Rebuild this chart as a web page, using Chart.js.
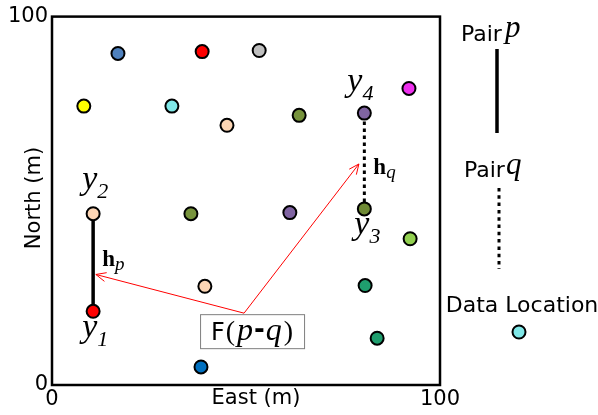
<!DOCTYPE html>
<html lang="en">
<head>
<meta charset="utf-8" />
<title>Pair p / Pair q</title>
<script src="https://cdn.jsdelivr.net/npm/chart.js@4.4.1/dist/chart.umd.min.js"></script>
<style>
  html, body { margin: 0; padding: 0; background: #fff; }
</style>
</head>
<body>
<canvas id="myChart" width="598" height="415"></canvas>
<script>
// debut donnees
const eastVals = [17.0, 38.7, 53.4, 8.2, 30.9, 45.1, 63.7, 80.5, 92.0, 10.6, 35.8, 61.3, 80.5, 92.3, 39.4, 80.7, 10.6, 83.8, 38.4];
const northVals = [90.0, 90.5, 90.8, 75.7, 75.7, 70.5, 73.2, 73.8, 80.5, 46.5, 46.5, 46.8, 47.8, 39.7, 26.8, 27.0, 20.0, 12.7, 4.9];
const pointColors = ["#4f81bd", "#ff0000", "#bfbfbf", "#ffff00", "#80e8e8", "#fcd5b4", "#77933c", "#8064a2", "#ee30ee",
  "#fcd5b4", "#77933c", "#8064a2", "#6f8a35", "#92d050", "#fcd5b4", "#1f9e6e", "#ff0000", "#1f9e6e", "#0070c0"];

// paires : indices des points (y1,y2) pour p et (y3,y4) pour q
const pairP = [16, 9];
const pairQ = [12, 7];
const pointNames = ["1", "2", "3", "4"];
const namedPoints = [16, 9, 12, 7];

// fleches F(p-q) : pointe hp, origine, pointe hq
const arrowEast = [11.3, 49.5, 79.1];
const arrowNorth = [30.0, 19.5, 60.0];

const axisTicks = [0, 100];
// fin donnees

const points = eastVals.map((x, i) => ({ x: x, y: northVals[i] }));
const pairData = (idx) => idx.map((i) => points[i]);
const arrowData = arrowEast.map((x, i) => ({ x: x, y: arrowNorth[i] }));

const SANS = "'DejaVu Sans'";
const SERIF = "'Liberation Serif'";

// petit texte y_n (italique + indice)
function yLabel(ctx, x, y, n) {
  ctx.font = "italic 34px " + SERIF;
  ctx.fillText("y", x, y);
  const w = ctx.measureText("y").width;
  ctx.font = "italic 22px " + SERIF;
  ctx.fillText(n, x + w, y + 9);
}

// h gras + indice italique
function hLabel(ctx, x, y, s) {
  ctx.font = "bold 23px " + SERIF;
  ctx.fillText("h", x, y);
  const w = ctx.measureText("h").width;
  ctx.font = "italic 19px " + SERIF;
  ctx.fillText(s, x + w, y + 4);
}

function arrowHead(ctx, fx, fy, tx, ty) {
  const ang = Math.atan2(ty - fy, tx - fx);
  const len = 11, spread = 0.42;
  ctx.beginPath();
  ctx.moveTo(tx - len * Math.cos(ang - spread), ty - len * Math.sin(ang - spread));
  ctx.lineTo(tx, ty);
  ctx.lineTo(tx - len * Math.cos(ang + spread), ty - len * Math.sin(ang + spread));
  ctx.stroke();
}

// morceaux de texte avec polices differentes, centres sur cx
function pieces(ctx, list, cx, y) {
  let total = 0;
  list.forEach((p) => { ctx.font = p[1]; total += ctx.measureText(p[0]).width + (p[2] || 0); });
  let x = cx - total / 2;
  list.forEach((p) => {
    ctx.font = p[1];
    ctx.fillText(p[0], x, y + (p[3] || 0));
    x += ctx.measureText(p[0]).width + (p[2] || 0);
  });
}

const decor = {
  id: "decor",
  beforeDatasetsDraw(chart) {
    const { ctx, chartArea: a } = chart;
    ctx.save();
    ctx.strokeStyle = "#000";
    ctx.lineWidth = 2.5;
    ctx.strokeRect(a.left, a.top, a.right - a.left, a.bottom - a.top);
    ctx.restore();
  },
  afterDatasetsDraw(chart) {
    const { ctx, scales } = chart;
    const px = (p) => ({ x: scales.x.getPixelForValue(p.x), y: scales.y.getPixelForValue(p.y) });
    ctx.save();
    ctx.fillStyle = "#000";
    ctx.textAlign = "left";
    ctx.textBaseline = "alphabetic";

    // pointes des fleches
    const o = px(arrowData[1]);
    const t1 = px(arrowData[0]);
    const t2 = px(arrowData[2]);
    ctx.strokeStyle = "#ff0000";
    ctx.lineWidth = 1;
    arrowHead(ctx, o.x, o.y, t1.x, t1.y);
    arrowHead(ctx, o.x, o.y, t2.x, t2.y);

    // noms y1..y4
    const offs = [[-11, 26], [-11, -25], [-10, 25], [-17, -22]];
    namedPoints.forEach((idx, k) => {
      const p = px(points[idx]);
      yLabel(ctx, p.x + offs[k][0], p.y + offs[k][1], pointNames[k]);
    });

    // hp et hq au milieu des segments
    const p1 = px(points[pairP[0]]), p2 = px(points[pairP[1]]);
    hLabel(ctx, p1.x + 9, (p1.y + p2.y) / 2 + 3, "p");
    const q1 = px(points[pairQ[0]]), q2 = px(points[pairQ[1]]);
    hLabel(ctx, q1.x + 9, (q1.y + q2.y) / 2 + 13, "q");

    // boite F(p-q) sous l'origine des fleches
    const bw = 104, bh = 34;
    const bx = o.x + 8 - bw / 2, by = o.y + 1;
    ctx.fillStyle = "#fff";
    ctx.fillRect(bx, by, bw, bh);
    ctx.strokeStyle = "#7f7f7f";
    ctx.lineWidth = 1;
    ctx.strokeRect(bx + 0.5, by + 0.5, bw, bh);
    ctx.fillStyle = "#000";
    pieces(ctx, [
      ["F", "24px " + SANS, 1],
      ["(", "28px " + SERIF, 2],
      ["p", "italic 32px " + SERIF, 1],
      ["-", "bold 26px " + SANS, 1, -2],
      ["q", "italic 32px " + SERIF, 2],
      [")", "28px " + SERIF, 0]
    ], o.x + 8, by + 26);
    ctx.restore();
  },
  afterDraw(chart) {
    const { ctx } = chart;
    ctx.save();
    ctx.fillStyle = "#000";
    ctx.textBaseline = "middle";
    ctx.textAlign = "center";
    ctx.font = "21px " + SANS;
    ctx.fillText("East (m)", 256, 399);
    ctx.translate(35, 198);
    ctx.rotate(-Math.PI / 2);
    ctx.fillText("North (m)", 0, 0);
    ctx.restore();

    // legende a droite
    ctx.save();
    ctx.fillStyle = "#000";
    ctx.textBaseline = "alphabetic";
    ctx.textAlign = "left";
    ctx.font = "22px " + SANS;
    ctx.fillText("Pair", 461, 41);
    ctx.fillText("Pair", 464, 177);
    ctx.font = "italic 31px " + SERIF;
    ctx.fillText("p", 505, 37);
    ctx.fillText("q", 506, 174);
    ctx.textAlign = "center";
    ctx.font = "22px " + SANS;
    ctx.fillText("Data Location", 522, 312);

    ctx.strokeStyle = "#000";
    ctx.lineWidth = 3.5;
    ctx.beginPath();
    ctx.moveTo(497, 49);
    ctx.lineTo(497, 133);
    ctx.stroke();
    ctx.lineWidth = 3;
    ctx.setLineDash([3.5, 3.8]);
    ctx.beginPath();
    ctx.moveTo(499, 188);
    ctx.lineTo(499, 269);
    ctx.stroke();
    ctx.setLineDash([]);

    ctx.fillStyle = "#80e8e8";
    ctx.lineWidth = 2;
    ctx.beginPath();
    ctx.arc(519, 332, 6.5, 0, Math.PI * 2);
    ctx.fill();
    ctx.stroke();
    ctx.restore();
  }
};

const data = {
  datasets: [
    {
      label: "Data Location",
      data: points,
      pointBackgroundColor: pointColors,
      pointBorderColor: "#000",
      pointBorderWidth: 2,
      pointRadius: 6.5,
      order: 0
    },
    {
      label: "Pair p",
      data: pairData(pairP),
      showLine: true,
      borderColor: "#000",
      borderWidth: 3.5,
      pointRadius: 0,
      order: 1
    },
    {
      label: "Pair q",
      data: pairData(pairQ),
      showLine: true,
      borderColor: "#000",
      borderWidth: 3,
      borderDash: [3.5, 3.5],
      pointRadius: 0,
      order: 1
    },
    {
      label: "F(p-q)",
      data: arrowData,
      showLine: true,
      borderColor: "#ff0000",
      borderWidth: 1,
      pointRadius: 0,
      order: 2
    }
  ]
};

const tickFont = { family: "DejaVu Sans", size: 21 };

const config = {
  type: "scatter",
  data: data,
  options: {
    responsive: false,
    animation: false,
    devicePixelRatio: 1,
    layout: { padding: { top: 15, right: 158, left: 0, bottom: 0 } },
    plugins: { legend: { display: false }, tooltip: { enabled: false } },
    scales: {
      x: {
        type: "linear",
        min: axisTicks[0],
        max: axisTicks[1],
        grid: { display: false, drawTicks: false },
        border: { display: false },
        ticks: { stepSize: 100, padding: 2, color: "#000", font: tickFont, maxRotation: 0 },
        afterFit: (scale) => { scale.height = 30; }
      },
      y: {
        type: "linear",
        min: axisTicks[0],
        max: axisTicks[1],
        grid: { display: false, drawTicks: false },
        border: { display: false },
        ticks: { stepSize: 100, padding: 4, color: "#000", font: tickFont },
        afterFit: (scale) => { scale.width = 52; }
      }
    }
  },
  plugins: [decor]
};

let chart = new Chart(document.getElementById("myChart").getContext("2d"), config);
</script>
</body>
</html>
